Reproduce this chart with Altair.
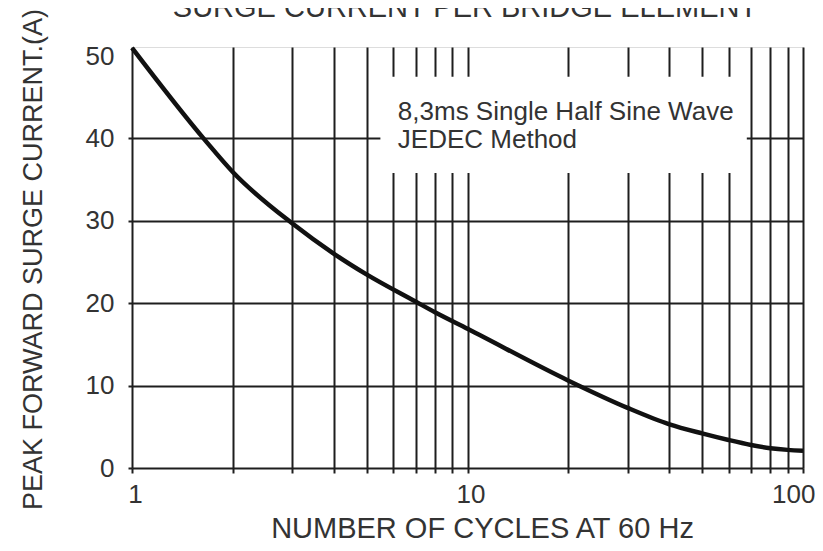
import altair as alt
import pandas as pd

# ---- data ----
cycles = [1, 1.65, 2, 3, 4, 5, 7, 8, 10, 20, 30, 40, 50, 60, 70, 80, 90, 100]
current = [51.0, 39.8, 35.9, 29.7, 26.0, 23.5, 20.2, 18.9, 16.9, 10.6, 7.3, 5.3, 4.2, 3.4, 2.8, 2.4, 2.2, 2.1]

x_grid = [1, 2, 3, 4, 5, 6, 7, 8, 9, 10, 20, 30, 40, 50, 60, 70, 80, 90, 100]
x_labels = [1, 10, 100]
y_ticks = [0, 10, 20, 30, 40, 50]

note_text = ["8,3ms Single Half Sine Wave", "JEDEC Method"]
note_x = [6.2, 6.2]
note_y = [42.2, 38.9]

box_x = [5.5]
box_x2 = [68.0]
box_y = [35.8]
box_y2 = [47.5]

title_text = ["SURGE CURRENT PER BRIDGE ELEMENT"]
x_title = "NUMBER OF CYCLES AT 60 Hz"
y_title = "PEAK FORWARD SURGE CURRENT.(A)"

FONT = "Liberation Sans"
INK = "#1e1e1e"
TXT = "#333333"

curve_df = pd.DataFrame({"n": cycles, "i": current})
note_df = pd.DataFrame({"n": note_x, "i": note_y, "t": note_text})
box_df = pd.DataFrame({"x": box_x, "x2": box_x2, "y": box_y, "y2": box_y2})
title_df = pd.DataFrame({"t": title_text})

x_scale = alt.Scale(type="log", domain=[1, 100], nice=False)
y_scale = alt.Scale(domain=[0, 51.1], nice=False, zero=False)

label_test = " || ".join(f"datum.value == {v}" for v in x_labels)

x_axis = alt.Axis(
    values=x_grid,
    labelExpr=f"({label_test}) ? format(datum.value, 'd') : ''",
    grid=True, gridColor=INK, gridWidth=2, gridOpacity=1,
    ticks=True, tickColor=INK, tickWidth=2, tickSize=5,
    domain=False,
    labelFont=FONT, labelFontSize=26, labelColor=TXT, labelPadding=8,
    labelFlush=False,
    labelAlign={"condition": {"test": "datum.value >= 100", "value": "right"}, "value": "center"},
    labelOffset={"condition": {"test": "datum.value >= 100", "value": 12}, "value": 3},
    labelBaseline="top",
    title=x_title, titleFont=FONT, titleFontSize=29, titleFontWeight="normal",
    titleColor=TXT, titleX=350, titleY=69, titleBaseline="alphabetic", titleAlign="center",
)

y_axis = alt.Axis(
    values=y_ticks,
    grid=True, gridColor=INK, gridWidth=2,
    gridOpacity={"condition": {"test": "datum.value >= 50", "value": 0}, "value": 1},
    ticks=True, tickColor=INK, tickWidth=2, tickSize=4,
    tickOpacity={"condition": {"test": "datum.value >= 50", "value": 0}, "value": 1},
    domain=False,
    labelFont=FONT, labelFontSize=26, labelColor=TXT, labelPadding=14,
    title=y_title, titleFont=FONT, titleFontSize=27, titleFontWeight="normal",
    titleColor=TXT, titleAngle=270, titleX=-91, titleY=212,
    titleBaseline="alphabetic", titleAlign="center",
)

box = alt.Chart(box_df).mark_rect(color="white", opacity=1).encode(
    x=alt.X("x:Q", scale=x_scale, axis=x_axis),
    x2="x2:Q",
    y=alt.Y("y:Q", scale=y_scale, axis=y_axis),
    y2="y2:Q",
)

note = alt.Chart(note_df).mark_text(
    align="left", baseline="alphabetic", font=FONT, fontSize=26, color=TXT
).encode(
    x=alt.X("n:Q", scale=x_scale),
    y=alt.Y("i:Q", scale=y_scale),
    text="t:N",
)

line = alt.Chart(curve_df).mark_line(
    color="#111111", strokeWidth=4.5, interpolate="monotone"
).encode(
    x=alt.X("n:Q", scale=x_scale),
    y=alt.Y("i:Q", scale=y_scale),
)

# chart heading, partly above the top edge as in the reference
heading = alt.Chart(title_df).mark_text(
    align="center", baseline="alphabetic", font=FONT, fontSize=29, color=TXT
).encode(
    text="t:N",
    x=alt.value(333),
    y=alt.value(-30),
)

chart = alt.layer(box, note, line, heading).properties(
    width=671,
    height=421,
    autosize=alt.AutoSizeParams(type="none"),
    padding={"left": 124, "top": 39, "right": 12, "bottom": 75},
).configure_view(stroke=INK, strokeWidth=2.5).configure(background="white")

chart.save("out.html", embed_options={"renderer": "svg", "actions": False})
